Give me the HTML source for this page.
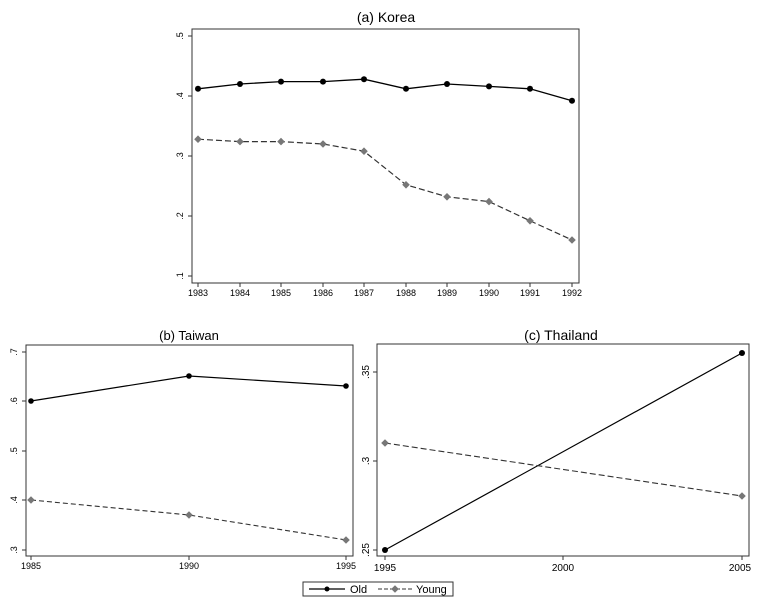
<!DOCTYPE html>
<html><head><style>body{margin:0;background:#fff}svg{display:block}text{font-family:"Liberation Sans",sans-serif;fill:#000}</style></head><body>
<svg width="757" height="605" viewBox="0 0 757 605" xmlns="http://www.w3.org/2000/svg">
<defs>
<g id="dia"><path d="M0,-3.8 L3.8,0 L0,3.8 L-3.8,0Z" fill="#777"/></g>
</defs>
<!-- Korea -->
<text x="386" y="22" font-size="14" text-anchor="middle">(a) Korea</text>
<rect x="192" y="29" width="387" height="254" fill="none" stroke="#333" stroke-width="1"/>
<g stroke="#333">
<line x1="188" y1="36" x2="192" y2="36"/><line x1="188" y1="96" x2="192" y2="96"/><line x1="188" y1="156" x2="192" y2="156"/><line x1="188" y1="216" x2="192" y2="216"/><line x1="188" y1="276" x2="192" y2="276"/>
</g>
<g font-size="9" text-anchor="middle">
<text transform="translate(183,36) rotate(-90)">.5</text>
<text transform="translate(183,96) rotate(-90)">.4</text>
<text transform="translate(183,156) rotate(-90)">.3</text>
<text transform="translate(183,216) rotate(-90)">.2</text>
<text transform="translate(183,276) rotate(-90)">.1</text>
</g>
<g font-size="9" text-anchor="middle">
<text x="198" y="296">1983</text><text x="240" y="296">1984</text><text x="281" y="296">1985</text><text x="323" y="296">1986</text><text x="364" y="296">1987</text><text x="406" y="296">1988</text><text x="447" y="296">1989</text><text x="489" y="296">1990</text><text x="530" y="296">1991</text><text x="572" y="296">1992</text>
</g>
<g stroke="#333"><line x1="198" y1="283" x2="198" y2="287"/><line x1="240" y1="283" x2="240" y2="287"/><line x1="281" y1="283" x2="281" y2="287"/><line x1="323" y1="283" x2="323" y2="287"/><line x1="364" y1="283" x2="364" y2="287"/><line x1="406" y1="283" x2="406" y2="287"/><line x1="447" y1="283" x2="447" y2="287"/><line x1="489" y1="283" x2="489" y2="287"/><line x1="530" y1="283" x2="530" y2="287"/><line x1="572" y1="283" x2="572" y2="287"/></g>
<polyline fill="none" stroke="#000" stroke-width="1.3" points="198,88.8 240,84 281,81.6 323,81.6 364,79.2 406,88.8 447,84 489,86.4 530,88.8 572,100.8"/>
<g fill="#000"><circle cx="198" cy="88.8" r="3"/><circle cx="240" cy="84" r="3"/><circle cx="281" cy="81.6" r="3"/><circle cx="323" cy="81.6" r="3"/><circle cx="364" cy="79.2" r="3"/><circle cx="406" cy="88.8" r="3"/><circle cx="447" cy="84" r="3"/><circle cx="489" cy="86.4" r="3"/><circle cx="530" cy="88.8" r="3"/><circle cx="572" cy="100.8" r="3"/></g>
<polyline fill="none" stroke="#333" stroke-width="1.2" stroke-dasharray="6,3" points="198,139.2 240,141.6 281,141.6 323,144 364,151.2 406,184.8 447,196.8 489,201.6 530,220.8 572,240"/>
<use href="#dia" x="198" y="139.2"/><use href="#dia" x="240" y="141.6"/><use href="#dia" x="281" y="141.6"/><use href="#dia" x="323" y="144"/><use href="#dia" x="364" y="151.2"/><use href="#dia" x="406" y="184.8"/><use href="#dia" x="447" y="196.8"/><use href="#dia" x="489" y="201.6"/><use href="#dia" x="530" y="220.8"/><use href="#dia" x="572" y="240"/>

<!-- Taiwan -->
<text x="189" y="340" font-size="13" text-anchor="middle">(b) Taiwan</text>
<rect x="26" y="345" width="327" height="211" fill="none" stroke="#333"/>
<g stroke="#333"><line x1="22" y1="352" x2="26" y2="352"/><line x1="22" y1="401" x2="26" y2="401"/><line x1="22" y1="451" x2="26" y2="451"/><line x1="22" y1="500" x2="26" y2="500"/><line x1="22" y1="550" x2="26" y2="550"/>
<line x1="31" y1="556" x2="31" y2="560"/><line x1="189" y1="556" x2="189" y2="560"/><line x1="346" y1="556" x2="346" y2="560"/></g>
<g font-size="9" text-anchor="middle">
<text transform="translate(17,352) rotate(-90)">.7</text><text transform="translate(17,401) rotate(-90)">.6</text><text transform="translate(17,451) rotate(-90)">.5</text><text transform="translate(17,500) rotate(-90)">.4</text><text transform="translate(17,550) rotate(-90)">.3</text>
<text x="31" y="569">1985</text><text x="189" y="569">1990</text><text x="346" y="569">1995</text>
</g>
<polyline fill="none" stroke="#000" stroke-width="1.2" points="31,401 189,376 346,386"/>
<circle cx="31" cy="401" r="2.8"/><circle cx="189" cy="376" r="2.8"/><circle cx="346" cy="386" r="2.8"/>
<polyline fill="none" stroke="#333" stroke-width="1.1" stroke-dasharray="5,3" points="31,500 189,515 346,540"/>
<use href="#dia" x="31" y="500"/><use href="#dia" x="189" y="515"/><use href="#dia" x="346" y="540"/>

<!-- Thailand -->
<text x="561" y="340" font-size="14" text-anchor="middle">(c) Thailand</text>
<rect x="377" y="344" width="372" height="212" fill="none" stroke="#333"/>
<g stroke="#333"><line x1="373" y1="372" x2="377" y2="372"/><line x1="373" y1="461" x2="377" y2="461"/><line x1="373" y1="550" x2="377" y2="550"/>
<line x1="385" y1="556" x2="385" y2="560"/><line x1="563" y1="556" x2="563" y2="560"/><line x1="742" y1="556" x2="742" y2="560"/></g>
<g font-size="10" text-anchor="middle">
<text transform="translate(369,372) rotate(-90)">.35</text><text transform="translate(369,461) rotate(-90)">.3</text><text transform="translate(369,550) rotate(-90)">.25</text>
<text x="385" y="571">1995</text><text x="563" y="571">2000</text><text x="740" y="571">2005</text>
</g>
<polyline fill="none" stroke="#000" stroke-width="1.2" points="385,550 742,353"/>
<circle cx="385" cy="550" r="3"/><circle cx="742" cy="353" r="3"/>
<polyline fill="none" stroke="#333" stroke-width="1.1" stroke-dasharray="6,3" points="385,443 742,496"/>
<use href="#dia" x="385" y="443"/><use href="#dia" x="742" y="496"/>

<!-- Legend -->
<rect x="303" y="582" width="150" height="14" fill="#fff" stroke="#333"/>
<line x1="309" y1="589" x2="345" y2="589" stroke="#000" stroke-width="1.2"/><circle cx="327" cy="589" r="2.5"/>
<text x="350" y="593" font-size="11">Old</text>
<line x1="378" y1="589" x2="413" y2="589" stroke="#333" stroke-dasharray="4,2"/><use href="#dia" x="395" y="589" transform="translate(0,0)"/>
<text x="416" y="593" font-size="11">Young</text>
</svg>
</body></html>
